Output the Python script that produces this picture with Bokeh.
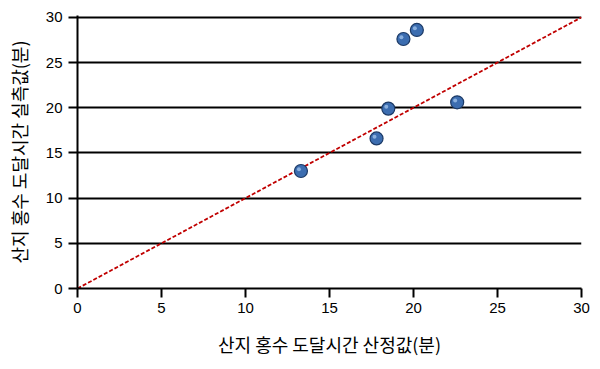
from bokeh.plotting import figure
from bokeh.models import ColumnDataSource, FixedTicker, Range1d
from bokeh.transform import dodge
from bokeh.embed import file_html
from bokeh.resources import INLINE

# Data
estimated = [13.3, 17.8, 18.5, 19.4, 20.2, 22.6]   # 산정값 (min)
measured = [13.0, 16.6, 19.9, 27.6, 28.6, 20.6]     # 실측값 (min)
line_x = [0, 30]
line_y = [0, 30]
ticks = [0, 5, 10, 15, 20, 25, 30]

FONT = "Noto Sans CJK KR"
NUMFONT = "Liberation Sans"

p = figure(width=600, height=369, output_backend="svg", toolbar_location=None,
           x_range=Range1d(0, 30), y_range=Range1d(0, 30.2),
           min_border_left=77, min_border_right=19, min_border_top=15, min_border_bottom=81)
p.outline_line_color = None
p.background_fill_color = "white"

p.xgrid.grid_line_color = None
p.ygrid.ticker = FixedTicker(ticks=ticks)
p.ygrid.grid_line_color = "black"
p.ygrid.grid_line_width = 2

for ax in (p.xaxis[0], p.yaxis[0]):
    ax.ticker = FixedTicker(ticks=ticks)
    ax.axis_line_color = "black"
    ax.axis_line_width = 2
    ax.major_tick_line_color = "black"
    ax.major_tick_line_width = 2
    ax.major_tick_out = 9
    ax.major_tick_in = 0
    ax.minor_tick_line_color = None
    ax.major_label_text_font = NUMFONT
    ax.major_label_text_font_size = "15px"
    ax.major_label_text_color = "black"
    ax.axis_label_text_font = FONT
    ax.axis_label_text_font_size = "18px"
    ax.axis_label_text_font_style = "normal"
    ax.axis_label_text_color = "black"

p.xaxis.axis_label = "산지 홍수 도달시간 산정값(분)"
p.yaxis.axis_label = "산지 홍수 도달시간 실측값(분)"
p.xaxis.major_label_standoff = 5
p.yaxis.major_label_standoff = 6
p.xaxis.axis_label_standoff = 15
p.yaxis.axis_label_standoff = 11

p.line(line_x, line_y, line_color="#c00000", line_width=1.8, line_dash="4 2")

src = ColumnDataSource(dict(x=estimated, y=measured))
p.scatter("x", "y", source=src, size=13, fill_color="#3c6db0",
          line_color="#1c3a66", line_width=1.2)
p.scatter(dodge("x", -0.12), dodge("y", 0.2), source=src, size=4, fill_color="#9ec0ea",
          line_color=None, fill_alpha=0.8)

open("out.html", "w").write(file_html(p, INLINE))
